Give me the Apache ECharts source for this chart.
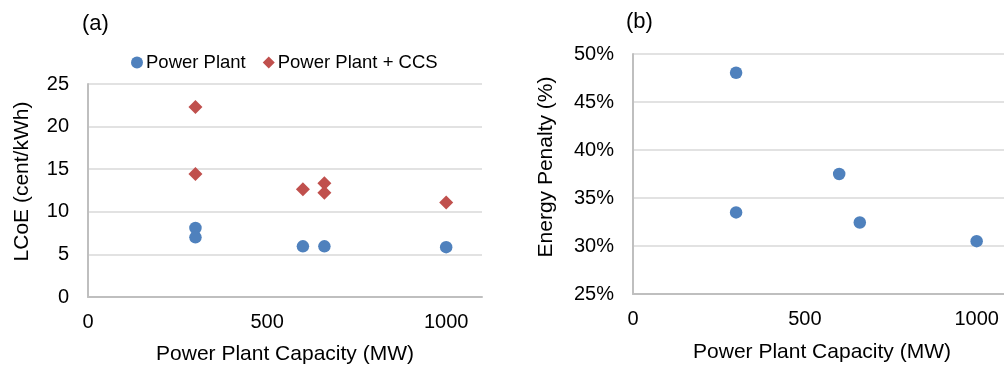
<!DOCTYPE html>
<html>
<head>
<meta charset="utf-8">
<script src="https://cdn.jsdelivr.net/npm/echarts@6/dist/echarts.min.js"></script>
<style>
html,body{margin:0;padding:0;background:#fff;}
#c{width:1004px;height:368px;}
</style>
</head>
<body>
<div id="c"></div>
<script>
// Panel (a): LCoE vs capacity
const ppCapacityA = [300, 300, 600, 660, 1000];
const ppLcoe = [8.1, 7.0, 5.95, 5.95, 5.85];
const ccsCapacity = [300, 300, 600, 660, 660, 1000];
const ccsLcoe = [22.3, 14.45, 12.65, 13.35, 12.25, 11.1];
// Panel (b): energy penalty vs capacity
const penCapacity = [300, 300, 600, 660, 1000];
const penValue = [48.05, 33.5, 37.5, 32.45, 30.5];
// Axis ticks
const xTicks = [0, 500, 1000];
const lcoeTicks = [0, 5, 10, 15, 20, 25];
const penTicks = [25, 30, 35, 40, 45, 50];

const FONT = "'Liberation Sans', Arial, sans-serif";
const BLUE = '#4F81BD';
const RED = '#C0504D';
const zip = (xs, ys) => xs.map((x, i) => [x, ys[i]]);

const axisLine = {show: true, lineStyle: {color: '#BFBFBF', width: 2}};
const split = {show: true, lineStyle: {color: '#D9D9D9', width: 1.5}};

function xAxis(gridIndex, gap) {
  return {
    type: 'value', gridIndex, min: 0, max: 1100, interval: 500,
    axisLine, axisTick: {show: false}, splitLine: {show: false},
    axisLabel: {fontFamily: FONT, fontSize: 20, color: '#000', margin: 15,
      formatter: v => (xTicks.indexOf(v) >= 0 ? String(v) : '')},
    name: 'Power Plant Capacity (MW)', nameLocation: 'middle', nameGap: gap,
    nameTextStyle: {fontFamily: FONT, fontSize: 21, color: '#000'}
  };
}

const option = {
  animation: false,
  backgroundColor: '#fff',
  textStyle: {fontFamily: FONT},
  title: [
    {text: '(a)', left: 77, top: 8, textStyle: {fontFamily: FONT, fontSize: 22, fontWeight: 'normal', color: '#000'}},
    {text: '(b)', left: 621, top: 6, textStyle: {fontFamily: FONT, fontSize: 22, fontWeight: 'normal', color: '#000'}}
  ],
  legend: {
    left: 126, top: 48, itemWidth: 12, itemHeight: 12, itemGap: 17,
    textStyle: {fontFamily: FONT, fontSize: 18.5, color: '#000', padding: [0, 0, 0, -2]},
    data: [{name: 'Power Plant', icon: 'circle'}, {name: 'Power Plant + CCS', icon: 'diamond'}]
  },
  grid: [
    {left: 88, top: 84, width: 394, height: 213, outerBoundsMode: 'none'},
    {left: 633, top: 54, width: 378, height: 240, outerBoundsMode: 'none'}
  ],
  xAxis: [xAxis(0, 47), xAxis(1, 48)],
  yAxis: [
    {type: 'value', gridIndex: 0, min: lcoeTicks[0], max: lcoeTicks[lcoeTicks.length - 1], interval: 5,
     axisLine, axisTick: {show: false}, splitLine: split,
     axisLabel: {fontFamily: FONT, fontSize: 20, color: '#000', margin: 19},
     name: 'LCoE (cent/kWh)', nameLocation: 'middle', nameGap: 55,
     nameTextStyle: {fontFamily: FONT, fontSize: 21, color: '#000', padding: [0, 0, 0, 18]}},
    {type: 'value', gridIndex: 1, min: penTicks[0], max: penTicks[penTicks.length - 1], interval: 5,
     axisLine, axisTick: {show: false}, splitLine: split,
     axisLabel: {fontFamily: FONT, fontSize: 20, color: '#000', margin: 19, formatter: v => v + '%'},
     name: 'Energy Penalty (%)', nameLocation: 'middle', nameGap: 76,
     nameTextStyle: {fontFamily: FONT, fontSize: 21, color: '#000', padding: [0, 0, 0, 14]}}
  ],
  series: [
    {name: 'Power Plant', type: 'scatter', xAxisIndex: 0, yAxisIndex: 0, symbol: 'circle', symbolSize: 12.5,
     itemStyle: {color: BLUE, opacity: 1}, data: zip(ppCapacityA, ppLcoe)},
    {name: 'Power Plant + CCS', type: 'scatter', xAxisIndex: 0, yAxisIndex: 0, symbol: 'diamond', symbolSize: 14,
     itemStyle: {color: RED, opacity: 1}, data: zip(ccsCapacity, ccsLcoe)},
    {name: 'Energy Penalty', type: 'scatter', xAxisIndex: 1, yAxisIndex: 1, symbol: 'circle', symbolSize: 12.5,
     itemStyle: {color: BLUE, opacity: 1}, data: zip(penCapacity, penValue)}
  ]
};

const chart = echarts.init(document.getElementById('c'), null, {renderer: 'canvas'});
chart.setOption(option);
</script>
</body>
</html>
